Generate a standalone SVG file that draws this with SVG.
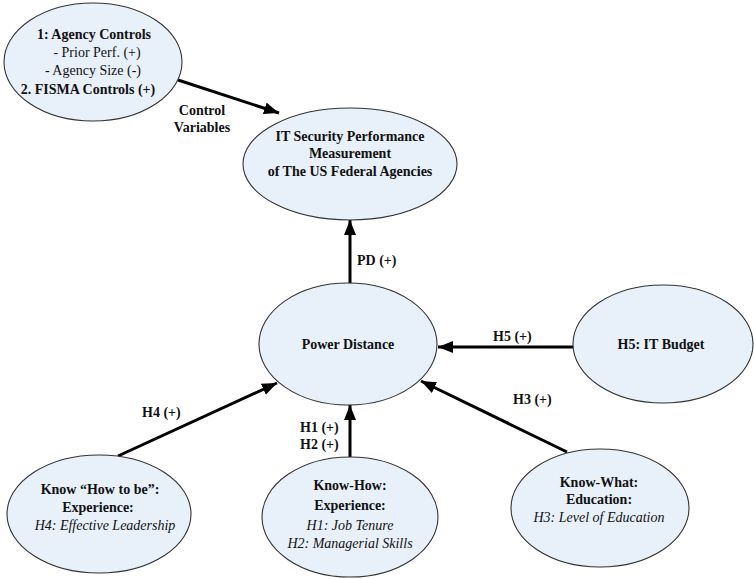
<svg xmlns="http://www.w3.org/2000/svg" width="754" height="579" viewBox="0 0 754 579">
<style>
.node ellipse{fill:#E8F0FA;stroke:#333;stroke-width:1.1}
text{font-family:"Liberation Serif","Times New Roman",serif;font-size:14px;fill:#111}
.b{font-weight:bold}
.i{font-style:italic}
.m{text-anchor:middle}
.conn line{stroke:#000;stroke-width:3;marker-end:url(#ah)}
</style>
<defs>
<marker id="ah" markerUnits="userSpaceOnUse" markerWidth="16" markerHeight="14" refX="15" refY="6" orient="auto">
<path d="M0,0 L15,6 L0,12 Z" fill="#000"/>
</marker>
</defs>
<rect width="754" height="579" fill="#fff"/>
<g id="connectors" class="conn">
<line x1="178" y1="80" x2="279" y2="113"/>
<line x1="350" y1="284" x2="350" y2="220"/>
<line x1="573" y1="347" x2="438" y2="347"/>
<line x1="118" y1="456" x2="277" y2="383"/>
<line x1="350" y1="458" x2="350" y2="405"/>
<line x1="567" y1="452" x2="421" y2="381"/>
</g>
<g id="labels">
<text class="b m" x="202" y="115">Control</text>
<text class="b m" x="202" y="132">Variables</text>
<text class="b" x="357" y="265">PD (+)</text>
<text class="b" x="493" y="341">H5 (+)</text>
<text class="b" x="513" y="404">H3 (+)</text>
<text class="b" x="142" y="417">H4 (+)</text>
<text class="b" x="300" y="432">H1 (+)</text>
<text class="b" x="300" y="449">H2 (+)</text>
</g>
<g id="controls" class="node">
<ellipse cx="93" cy="62" rx="89" ry="59"/>
<text class="b m" x="94" y="39">1: Agency Controls</text>
<text class="m" x="97" y="57">- Prior Perf. (+)</text>
<text class="m" x="93" y="75">- Agency Size (-)</text>
<text class="b m" x="88" y="94">2. FISMA Controls (+)</text>
</g>
<g id="itsecurity" class="node">
<ellipse cx="350" cy="164" rx="107" ry="56"/>
<text class="b m" x="350" y="141">IT Security Performance</text>
<text class="b m" x="350" y="158">Measurement</text>
<text class="b m" x="350" y="176">of The US Federal Agencies</text>
</g>
<g id="powerdistance" class="node">
<ellipse cx="348" cy="344" rx="89" ry="61"/>
<text class="b m" x="348" y="349">Power Distance</text>
</g>
<g id="itbudget" class="node">
<ellipse cx="663" cy="344" rx="90" ry="59"/>
<text class="b m" x="661" y="349">H5: IT Budget</text>
</g>
<g id="knowhowtobe" class="node">
<ellipse cx="99" cy="514" rx="92" ry="59"/>
<text class="b m" x="100" y="494">Know “How to be”:</text>
<text class="b m" x="98" y="512">Experience:</text>
<text class="i m" x="105" y="530">H4: Effective Leadership</text>
</g>
<g id="knowhow" class="node">
<ellipse cx="350" cy="517" rx="88" ry="60"/>
<text class="b m" x="350" y="490">Know-How:</text>
<text class="b m" x="350" y="510">Experience:</text>
<text class="i m" x="350" y="530">H1: Job Tenure</text>
<text class="i m" x="350" y="548">H2: Managerial Skills</text>
</g>
<g id="knowwhat" class="node">
<ellipse cx="600" cy="508" rx="89" ry="59"/>
<text class="b m" x="599" y="487">Know-What:</text>
<text class="b m" x="599" y="504">Education:</text>
<text class="i m" x="599" y="522">H3: Level of Education</text>
</g>
</svg>
